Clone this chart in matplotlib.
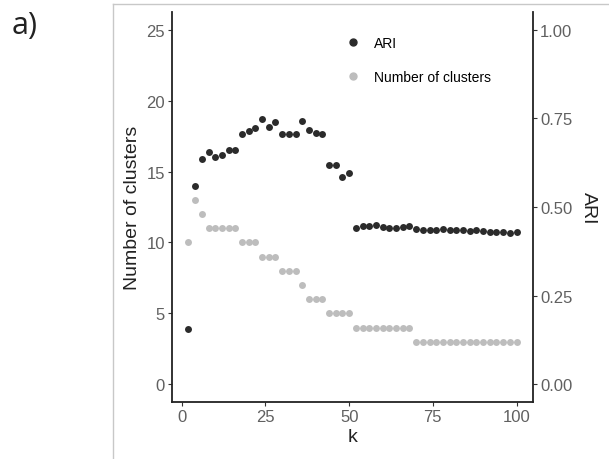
import matplotlib.pyplot as plt
from matplotlib.lines import Line2D
import numpy as np

plt.rcParams['font.family'] = ['Liberation Sans', 'DejaVu Sans']

# k values (2..100 step 2)
k = list(range(2, 101, 2))

# number of clusters per k
n_clusters = [10, 13, 12, 11, 11, 11, 11, 11, 10, 10, 10, 9, 9, 9, 8, 8, 8, 7,
              6, 6, 6, 5, 5, 5, 5,
              4, 4, 4, 4, 4, 4, 4, 4, 4,
              3, 3, 3, 3, 3, 3, 3, 3, 3, 3, 3, 3, 3, 3, 3, 3]

# ARI per k
ari = [0.157, 0.558, 0.634, 0.654, 0.642, 0.646, 0.661, 0.662, 0.705, 0.714,
       0.722, 0.747, 0.727, 0.740, 0.707, 0.707, 0.707, 0.743, 0.717, 0.709,
       0.707, 0.618, 0.618, 0.586, 0.596,
       0.442, 0.445, 0.447, 0.448, 0.444, 0.442, 0.442, 0.444, 0.446,
       0.437, 0.436, 0.436, 0.436, 0.438, 0.434, 0.435, 0.436, 0.433, 0.434,
       0.431, 0.430, 0.430, 0.430, 0.428, 0.430]

dark = '#2b2b2b'
light = '#bdbdbd'
tick_col = '#606060'

fig = plt.figure(figsize=(6.09, 4.6), dpi=100)
ax = fig.add_axes([172/609, 1 - 403/460, (533 - 172)/609, (403 - 13)/460])
ax2 = ax.twinx()

ax.scatter(k, n_clusters, s=25, color=light, linewidths=0, zorder=3)
ax2.scatter(k, ari, s=25, color=dark, linewidths=0, zorder=3)

ax.set_xlim(-2.9, 104.9)
ax.set_ylim(-1.25, 26.25)
ax2.set_ylim(-0.05, 1.05)
ax.set_xticks([0, 25, 50, 75, 100])
ax.set_yticks([0, 5, 10, 15, 20, 25])
ax2.set_yticks([0, 0.25, 0.5, 0.75, 1.0])
ax2.set_yticklabels(['0.00', '0.25', '0.50', '0.75', '1.00'])

for a in (ax, ax2):
    for s in a.spines.values():
        s.set_visible(False)
    a.tick_params(labelsize=12, colors='#333333', labelcolor=tick_col,
                  length=3, width=0.8, pad=2)
ax.spines['left'].set_visible(True)
ax.spines['bottom'].set_visible(True)
ax2.spines['right'].set_visible(True)
for s in (ax.spines['left'], ax.spines['bottom'], ax2.spines['right']):
    s.set_linewidth(1.3)
    s.set_color('#222222')

ax.set_xlabel('k', fontsize=14, color='#222222', labelpad=3)
ax.set_ylabel('Number of clusters', fontsize=14, color='#222222', labelpad=4)
ax2.set_ylabel('ARI', fontsize=14, color='#222222', rotation=-90, labelpad=18)

handles = [Line2D([], [], marker='o', ls='none', color=dark, markersize=5),
           Line2D([], [], marker='o', ls='none', color=light, markersize=5)]
fig.legend(handles, ['ARI', 'Number of clusters'], loc='upper left',
           bbox_to_anchor=(332/609, 1 - 24/460), frameon=False, fontsize=10,
           labelspacing=1.45, handletextpad=0.9, handlelength=1.2)

# panel border (light gray box edge)
fig.add_artist(Line2D([113/609, 113/609], [0, 1 - 5/460], color='#c8c8c8', lw=1))
fig.add_artist(Line2D([113/609, 1], [1 - 5/460, 1 - 5/460], color='#c8c8c8', lw=1))

fig.text(12/609, 1 - 26/460, 'a)', fontsize=22, color='#222222',
         family=['Open Sans', 'DejaVu Sans'], va='center')

fig.savefig('out.png', dpi=100)
